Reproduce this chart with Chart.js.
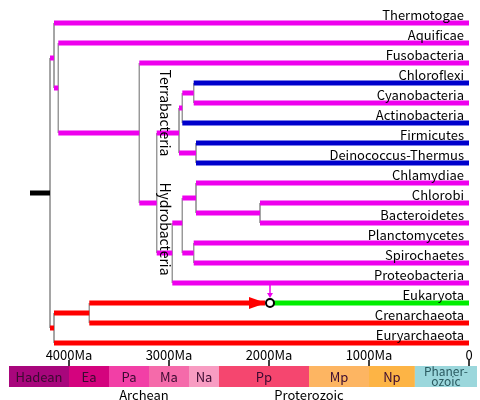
<!DOCTYPE html>
<html>
<head>
<meta charset="utf-8">
<script src="https://cdn.jsdelivr.net/npm/chart.js@4"></script>
<style>
body { margin: 0; background: #fff; }
#wrap { width: 480px; height: 400px; }
</style>
</head>
<body>
<div id="wrap"><canvas id="chart"></canvas></div>
<script>
const MAG = '#ee00ee', BLUE = '#0000cc', RED = '#ff0000', GREEN = '#00ee00'

// leaves: row index = position in array
const leafNames = ['Thermotogae', 'Aquificae', 'Fusobacteria', 'Chloroflexi', 'Cyanobacteria', 'Actinobacteria',
  'Firmicutes', 'Deinococcus-Thermus', 'Chlamydiae', 'Chlorobi', 'Bacteroidetes', 'Planctomycetes',
  'Spirochaetes', 'Proteobacteria', 'Eukaryota', 'Crenarchaeota', 'Euryarchaeota']
const leafStart = [4150, 4107, 3297, 2753, 2753, 2867, 2730, 2730, 2730, 2090, 2090, 2753, 2753, 2967, 1990, 3797, 4150]
const leafColor = [MAG, MAG, MAG, BLUE, MAG, BLUE, BLUE, BLUE, MAG, MAG, MAG, MAG, MAG, MAG, GREEN, RED, RED]

// internal branches: [from Ma, to Ma, row, colour]
const branches = [
  [4390, 4190, 8.5, '#000'],
  [4190, 4150, 1.75, MAG], [4150, 4107, 3.25, MAG], [4107, 3297, 5.5, MAG],
  [3297, 3123, 9, MAG], [3123, 2900, 5.5, MAG], [2900, 2867, 4.25, MAG],
  [2867, 2753, 3.5, MAG], [2900, 2730, 6.5, MAG], [3123, 2967, 11.5, MAG],
  [2967, 2867, 10, MAG], [2867, 2730, 8.75, MAG], [2730, 2090, 9.5, MAG],
  [2867, 2753, 11.5, MAG],
  [4190, 4150, 15.25, RED], [4150, 3797, 14.5, RED], [3797, 2040, 14, RED]
]
// vertical connectors: [Ma, row from, row to]
const connectors = [
  [4190, 1.75, 15.25], [4150, 0, 3.25], [4107, 1, 5.5], [3297, 2, 9], [3123, 5.5, 11.5],
  [2900, 4.25, 6.5], [2867, 3.5, 5], [2753, 3, 4], [2730, 6, 7], [2967, 10, 13],
  [2867, 8.75, 11.5], [2730, 8, 9.5], [2090, 9, 10], [2753, 11, 12],
  [4150, 14.5, 16], [3797, 14, 15]
]

const eraNames = ['Hadean', 'Ea', 'Pa', 'Ma', 'Na', 'Pp', 'Mp', 'Np', 'Phaner-|ozoic']
const eraBounds = [4600, 4000, 3600, 3200, 2800, 2500, 1600, 1000, 541, -80]
const eraColors = ['#a8067c', '#d4037e', '#f23fa6', '#f56aaa', '#f89cc2', '#f5466f', '#fdb562', '#fdb445', '#9bd7dc']
const eonNames = ['Archean', 'Proterozoic']
const eonCenters = [3250, 1600]
const tickValues = [4000, 3000, 2000, 1000, 0]
const tickLabels = ['4000Ma', '3000Ma', '2000Ma', '1000Ma', '0']

const datasets = []
connectors.forEach(c => datasets.push({
  data: [{ x: c[0], y: c[1] }, { x: c[0], y: c[2] }],
  borderColor: '#999', borderWidth: 1, order: 2
}))
branches.forEach(b => datasets.push({
  data: [{ x: b[0], y: b[2] }, { x: b[1], y: b[2] }],
  borderColor: b[3], borderWidth: 5, order: 1
}))
leafNames.forEach((n, i) => datasets.push({
  data: [{ x: leafStart[i], y: i }, { x: 0, y: i }],
  borderColor: leafColor[i], borderWidth: 5, order: 1
}))

const FONT = '"Noto Sans CJK JP", "Noto Sans", sans-serif'

const overlay = {
  id: 'overlay',
  afterDatasetsDraw(chart) {
    const ctx = chart.ctx
    const x = chart.scales.x, y = chart.scales.y
    ctx.save()
    // leaf labels
    ctx.font = '13px ' + FONT
    ctx.fillStyle = '#000'
    ctx.textAlign = 'right'
    ctx.textBaseline = 'bottom'
    leafNames.forEach((n, i) => ctx.fillText(n, 464, y.getPixelForValue(i) - 1))
    // Eukaryota arrow head + circle
    const ey = y.getPixelForValue(14), cx = x.getPixelForValue(1990)
    ctx.fillStyle = RED
    ctx.beginPath()
    ctx.moveTo(x.getPixelForValue(2200), ey - 6)
    ctx.lineTo(cx - 4, ey)
    ctx.lineTo(x.getPixelForValue(2200), ey + 6)
    ctx.closePath()
    ctx.fill()
    ctx.strokeStyle = MAG
    ctx.lineWidth = 1.5
    ctx.beginPath()
    ctx.moveTo(cx, y.getPixelForValue(13))
    ctx.lineTo(cx, ey - 7)
    ctx.stroke()
    ctx.fillStyle = MAG
    ctx.beginPath()
    ctx.moveTo(cx - 3, ey - 10); ctx.lineTo(cx + 3, ey - 10); ctx.lineTo(cx, ey - 5)
    ctx.fill()
    ctx.fillStyle = '#fff'
    ctx.strokeStyle = '#000'
    ctx.lineWidth = 2
    ctx.beginPath()
    ctx.arc(cx, ey, 4, 0, Math.PI * 2)
    ctx.fill(); ctx.stroke()
    // clade names (rotated)
    ctx.fillStyle = '#000'
    ctx.font = '14px ' + FONT
    ctx.textAlign = 'center'
    ctx.textBaseline = 'middle'
    ;[['Terrabacteria', 4.5], ['Hydrobacteria', 10.3]].forEach(t => {
      ctx.save()
      ctx.translate(x.getPixelForValue(3040), y.getPixelForValue(t[1]))
      ctx.rotate(Math.PI / 2)
      ctx.fillText(t[0], 0, 0)
      ctx.restore()
    })
    // time axis
    const top = 366, h = 21
    ctx.strokeStyle = '#000'
    ctx.lineWidth = 1.5
    ctx.font = '13px ' + FONT
    ctx.textBaseline = 'bottom'
    tickValues.forEach((v, i) => {
      const px = x.getPixelForValue(v)
      ctx.fillText(tickLabels[i], px, 362)
      ctx.beginPath(); ctx.moveTo(px, 360); ctx.lineTo(px, top); ctx.stroke()
    })
    eraNames.forEach((n, i) => {
      const a = x.getPixelForValue(eraBounds[i]), b = x.getPixelForValue(eraBounds[i + 1])
      ctx.fillStyle = eraColors[i]
      ctx.fillRect(a, top, b - a, h)
      ctx.fillStyle = i === 8 ? '#2a5a60' : '#3a0a30'
      ctx.textBaseline = 'middle'
      const parts = n.split('|')
      if (parts.length === 2) {
        ctx.font = '12px ' + FONT
        ctx.fillText(parts[0], (a + b) / 2, top + 5)
        ctx.fillText(parts[1], (a + b) / 2, top + 15)
        ctx.font = '13px ' + FONT
      } else {
        ctx.fillText(n, (a + b) / 2, top + h / 2 + 1)
      }
    })
    ctx.fillStyle = '#000'
    eonNames.forEach((n, i) => ctx.fillText(n, x.getPixelForValue(eonCenters[i]), 395))
    ctx.restore()
  }
}

new Chart(document.getElementById('chart').getContext('2d'), {
  type: 'line',
  data: { datasets },
  options: {
    responsive: true,
    maintainAspectRatio: false,
    animation: false,
    layout: { padding: { left: 9, right: 2, top: 3, bottom: 47 } },
    elements: { point: { radius: 0 }, line: { borderCapStyle: 'butt' } },
    plugins: { legend: { display: false }, tooltip: { enabled: false } },
    scales: {
      x: { type: 'linear', reverse: true, min: -90, max: 4600, display: false },
      y: { type: 'linear', reverse: true, min: -1, max: 16.5, display: false }
    }
  },
  plugins: [overlay]
})
</script>
</body>
</html>
